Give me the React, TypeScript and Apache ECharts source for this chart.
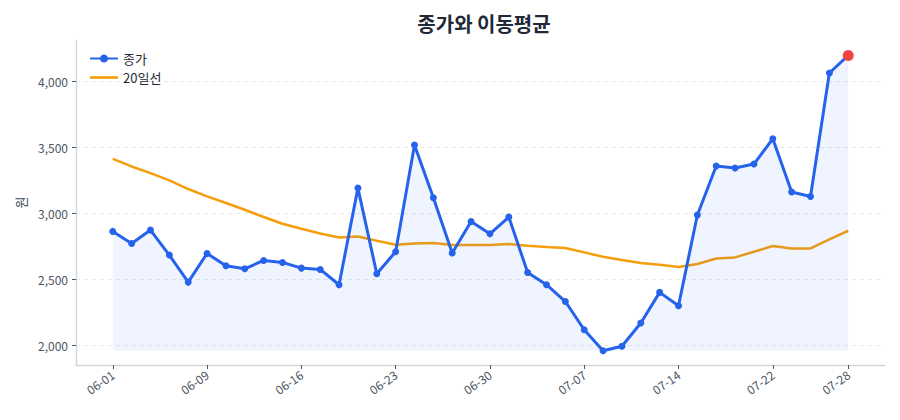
import React, { useEffect, useRef } from "react";
import * as echarts from "echarts";

const dates = [
  "06-01", "06-02", "06-05", "06-07", "06-08", "06-09", "06-12", "06-13", "06-14", "06-15",
  "06-16", "06-19", "06-20", "06-21", "06-22", "06-23", "06-26", "06-27", "06-28", "06-29",
  "06-30", "07-03", "07-04", "07-05", "07-06", "07-07", "07-10", "07-11", "07-12", "07-13",
  "07-14", "07-17", "07-18", "07-19", "07-20", "07-22", "07-24", "07-25", "07-27", "07-28",
];

const closes = [
  2864, 2773, 2874, 2685, 2480, 2697, 2604, 2581, 2644, 2629,
  2586, 2576, 2460, 3192, 2543, 2710, 3518, 3119, 2700, 2939,
  2846, 2973, 2553, 2460, 2333, 2119, 1960, 1994, 2170, 2402,
  2301, 2988, 3359, 3344, 3374, 3566, 3162, 3129, 4064, 4197,
];

const ma20 = [
  3414, 3356, 3306, 3250, 3185, 3129, 3079, 3028, 2973, 2922,
  2884, 2848, 2818, 2826, 2793, 2763, 2773, 2776, 2761, 2761,
  2761, 2768, 2755, 2745, 2738, 2705, 2672, 2648, 2624, 2611,
  2594, 2617, 2659, 2667, 2710, 2753, 2735, 2735, 2803, 2869,
];

const xTickIdx = [0, 5, 10, 15, 20, 25, 30, 35, 39];
const yTicks = [2000, 2500, 3000, 3500, 4000];

const FONT = "'Noto Sans CJK KR', 'Noto Sans', sans-serif";

export default function App() {
  const ref = useRef<HTMLDivElement>(null);
  useEffect(() => {
    if (!ref.current) return;
    const chart = echarts.init(ref.current, null, { renderer: "svg" });
    const n = closes.length;
    const pad = (n - 1) * 0.05;
    const minClose = Math.min(...closes);
    const closeData = closes.map((v, i) =>
      i === n - 1
        ? { value: [i, v], itemStyle: { color: "#ef4444" }, symbolSize: 11 }
        : { value: [i, v] }
    );
    chart.setOption({
      animation: false,
      backgroundColor: "#ffffff",
      textStyle: { fontFamily: FONT },
      title: {
        text: "종가와 이동평균",
        left: 479,
        textAlign: "center",
        top: 8,
        textStyle: { fontSize: 20, fontWeight: "bold", color: "#1f2937", fontFamily: FONT },
      },
      legend: {
        orient: "vertical",
        left: 84,
        top: 47,
        itemWidth: 28,
        itemHeight: 10,
        itemGap: 6,
        textStyle: { fontSize: 13, color: "#1f2937", fontFamily: FONT },
        data: [
          { name: "종가", itemStyle: { color: "#2563eb" } },
          { name: "20일선", icon: "path://M0,0 L28,0 L28,2.6 L0,2.6 Z", itemStyle: { color: "#f59e0b" } },
        ],
      },
      grid: { left: 76, right: 15, top: 40, bottom: 55, containLabel: false },
      xAxis: {
        type: "value",
        min: -pad,
        max: n - 1 + pad,
        axisLine: { show: true, onZero: false, lineStyle: { color: "#d1d5db", width: 1.3 } },
        axisTick: {
          show: true,
          customValues: xTickIdx,
          length: 4,
          lineStyle: { color: "#4b5563", width: 1 },
        },
        axisLabel: {
          customValues: xTickIdx,
          rotate: 35,
          fontSize: 12,
          color: "#4b5563",
          fontFamily: FONT,
          margin: 8,
          formatter: (v: number) => dates[Math.round(v)] ?? "",
        },
        splitLine: { show: false },
      },
      yAxis: {
        type: "value",
        min: 1852,
        max: 4314,
        name: "원",
        nameLocation: "middle",
        nameGap: 47,
        nameRotate: 90,
        nameTextStyle: { fontSize: 13, color: "#374151", fontFamily: FONT },
        axisLine: { show: true, onZero: false, lineStyle: { color: "#d1d5db", width: 1.3 } },
        axisTick: {
          show: true,
          customValues: yTicks,
          length: 4,
          lineStyle: { color: "#4b5563", width: 1 },
        },
        axisLabel: {
          customValues: yTicks,
          fontSize: 12,
          color: "#4b5563",
          fontFamily: FONT,
          margin: 8,
          formatter: (v: number) => v.toLocaleString("en-US"),
        },
        splitLine: {
          show: true,
          lineStyle: { color: "#e5e7eb", type: [4, 4], width: 1 },
        },
      },
      series: [
        {
          name: "종가",
          type: "line",
          data: closeData,
          color: "#2563eb",
          lineStyle: { color: "#2563eb", width: 3 },
          itemStyle: { color: "#2563eb" },
          symbol: "circle",
          symbolSize: 7,
          showSymbol: true,
          areaStyle: { color: "rgba(37,99,235,0.1)", origin: minClose },
          z: 3,
        },
        {
          name: "20일선",
          type: "line",
          data: ma20.map((v, i) => [i, v]),
          color: "#f59e0b",
          lineStyle: { color: "#f59e0b", width: 2.5 },
          symbol: "none",
          z: 2,
        },
      ],
    });
    return () => chart.dispose();
  }, []);
  return (
    <div
      ref={ref}
      style={{ position: "fixed", left: 0, top: 0, width: 900, height: 420 }}
    />
  );
}
